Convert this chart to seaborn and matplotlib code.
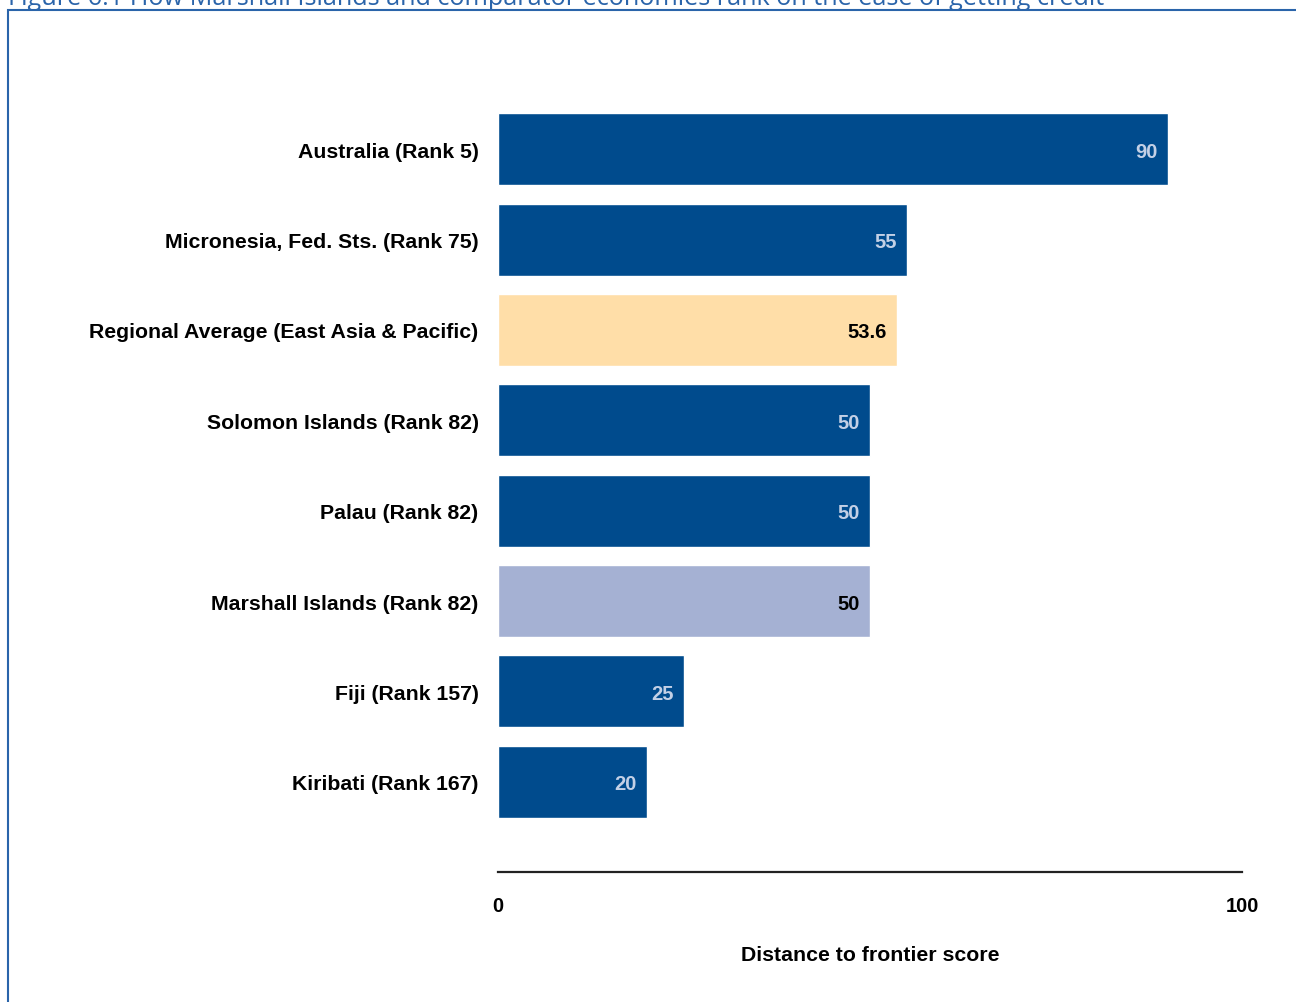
import matplotlib
matplotlib.use("Agg")
import matplotlib.pyplot as plt
import seaborn as sns
import pandas as pd
from matplotlib.patches import Rectangle
from matplotlib.transforms import offset_copy

categories = [
    "Australia (Rank 5)",
    "Micronesia, Fed. Sts. (Rank 75)",
    "Regional Average (East Asia & Pacific)",
    "Solomon Islands (Rank 82)",
    "Palau (Rank 82)",
    "Marshall Islands (Rank 82)",
    "Fiji (Rank 157)",
    "Kiribati (Rank 167)",
]
values = [90, 55, 53.6, 50, 50, 50, 25, 20]
value_labels = ["90", "55", "53.6", "50", "50", "50", "25", "20"]
bar_colors = ["#004B8D", "#004B8D", "#FFDEA8", "#004B8D", "#004B8D", "#A5B1D3", "#004B8D", "#004B8D"]
label_colors = ["#C3D0E6", "#C3D0E6", "#000000", "#C3D0E6", "#C3D0E6", "#000000", "#C3D0E6", "#C3D0E6"]
x_ticks = [0, 100]
x_label = "Distance to frontier score"
title = "Figure 6.1 How Marshall Islands and comparator economies rank on the ease of getting credit"

sns.set_theme(style="white")
plt.rcParams["font.family"] = ["Liberation Sans", "DejaVu Sans"]
plt.rcParams["text.color"] = "black"
plt.rcParams["xtick.color"] = "black"
plt.rcParams["ytick.color"] = "black"
plt.rcParams["axes.labelcolor"] = "black"

df = pd.DataFrame({"cat": categories, "val": values})

fig = plt.figure(figsize=(12.96, 10.03), dpi=100)
ax = fig.add_axes([498 / 1296, 1 - 873 / 1003, 744 / 1296, 813 / 1003])

sns.barplot(data=df, y="cat", x="val", hue="cat", palette=bar_colors,
            order=categories, hue_order=categories, orient="h",
            width=0.8, legend=False, saturation=1, ax=ax)

ax.set_xlim(0, 100)
ax.set_ylim(8.0, -1.0)
ax.set_xticks(x_ticks)
ax.set_xticklabels([str(t) for t in x_ticks], fontweight="bold", fontsize=14.5)
ax.set_yticks(range(len(categories)))
ax.set_yticklabels(categories, fontweight="bold", fontsize=15.3)
ax.tick_params(axis="y", length=0, pad=14)
ax.tick_params(axis="x", length=0, pad=17)
ax.set_ylabel("")
ax.set_xlabel(x_label, fontweight="bold", fontsize=15.3, labelpad=22)

for s in ["left", "right", "top"]:
    ax.spines[s].set_visible(False)
ax.spines["bottom"].set_color("#222222")
ax.spines["bottom"].set_linewidth(1.6)

for i, (v, lab, c) in enumerate(zip(values, value_labels, label_colors)):
    tr = offset_copy(ax.transData, fig=fig, x=-10, y=0, units="dots")
    ax.text(v, i, lab, transform=tr, ha="right", va="center_baseline",
            color=c, fontsize=14.5, fontweight="bold")

# frame
fig.patches.append(Rectangle((8 / 1296, -0.05), 1.2, 1 - 11 / 1003 + 0.05,
                             transform=fig.transFigure, fill=False,
                             edgecolor="#2A64AA", linewidth=1.5))
fig.text(8 / 1296, 1 - 5 / 1003, title, color="#2A64AA", fontsize=18.2,
         ha="left", va="baseline", family=["Open Sans", "DejaVu Sans"])

fig.savefig("out.png", dpi=100)
